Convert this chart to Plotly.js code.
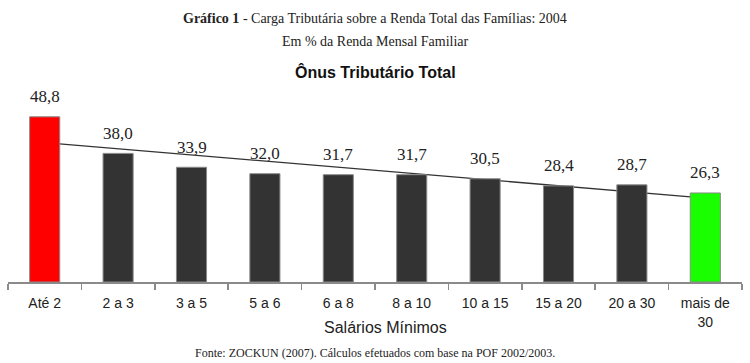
<!DOCTYPE html>
<html>
<head>
<meta charset="utf-8">
<script src="https://cdn.plot.ly/plotly-3.0.1.min.js"></script>
<style>html,body{margin:0;padding:0;background:#fff;}#chart{width:750px;height:363px;}</style>
</head>
<body>
<div id="chart"></div>
<script>
const categories = ["Até 2", "2 a 3", "3 a 5", "5 a 6", "6 a 8", "8 a 10", "10 a 15", "15 a 20", "20 a 30", "mais de 30"];
const tickLabels = ["Até 2", "2 a 3", "3 a 5", "5 a 6", "6 a 8", "8 a 10", "10 a 15", "15 a 20", "20 a 30", "mais de<br>30"];
const values = [48.8, 38.0, 33.9, 32.0, 31.7, 31.7, 30.5, 28.4, 28.7, 26.3];
const barColors = ["#FF0000", "#333333", "#333333", "#333333", "#333333", "#333333", "#333333", "#333333", "#333333", "#19FF00"];
const trendCategories = ["Até 2", "mais de 30"];
const trendValues = [41.2, 24.8];

const W = 750, H = 363;
const mT = 100, mB = 81, mL = 8, mR = 8;
const plotH = H - mT - mB;
const py = p => (H - mB - p) / plotH; // pixel row -> paper y
const yRange = [0, 53.77];
const xRange = [-0.5, 9.5];

const serif = "Liberation Serif, Times New Roman, serif";
const sans = "Liberation Sans, Arial, sans-serif";

const trend = {
  type: "scatter", mode: "lines",
  x: trendCategories, y: trendValues,
  xaxis: "x", yaxis: "y",
  line: {color: "#333333", width: 1.3},
  hoverinfo: "skip", showlegend: false
};
const bars = {
  type: "bar",
  x: categories, y: values,
  xaxis: "x2", yaxis: "y2",
  width: 0.41,
  marker: {color: barColors, line: {color: "#8a8a8a", width: 1}},
  showlegend: false
};

const annotations = [
  {text: "<b>Gráfico 1</b> - Carga Tributária sobre a Renda Total das Famílias: 2004", x: 0.5, y: py(18), font: {family: serif, size: 14, color: "#222"}},
  {text: "Em % da Renda Mensal Familiar", x: 0.5, y: py(41), font: {family: serif, size: 14, color: "#222"}},
  {text: "<b>Ônus Tributário Total</b>", x: 0.5, y: py(72), font: {family: sans, size: 16, color: "#111"}},
  {text: "Salários Mínimos", x: (385 - mL) / (W - mL - mR), y: py(327), font: {family: sans, size: 16, color: "#222"}},
  {text: "Fonte: ZOCKUN (2007). Cálculos efetuados com base na POF 2002/2003.", x: 0.5, y: py(353), font: {family: serif, size: 12, color: "#222"}}
].map(a => Object.assign({xref: "paper", yref: "paper", showarrow: false, xanchor: "center", yanchor: "middle"}, a));

categories.forEach((c, i) => {
  annotations.push({
    xref: "x2", yref: "y2", x: c, y: values[i],
    text: values[i].toFixed(1).replace(".", ","),
    showarrow: false, yanchor: "middle", yshift: 20,
    font: {family: serif, size: 17, color: "#222"}
  });
});

const layout = {
  width: W, height: H,
  margin: {t: mT, b: mB, l: mL, r: mR, pad: 0},
  paper_bgcolor: "#fff", plot_bgcolor: "#fff",
  xaxis: {
    type: "category", categoryorder: "array", categoryarray: categories,
    range: xRange, tickmode: "array", tickvals: categories, ticktext: tickLabels,
    showline: true, linecolor: "#8a8a8a", linewidth: 1.5,
    ticks: "outside", tickson: "boundaries", ticklen: 6, tickcolor: "#8a8a8a", tickwidth: 1.5,
    ticklabelstandoff: 8,
    tickfont: {family: sans, size: 14, color: "#222"},
    showgrid: false, zeroline: false, fixedrange: true
  },
  yaxis: {range: yRange, visible: false, showgrid: false, zeroline: false, fixedrange: true},
  xaxis2: {type: "category", categoryorder: "array", categoryarray: categories, range: xRange, overlaying: "x", visible: false, fixedrange: true},
  yaxis2: {range: yRange, overlaying: "y", visible: false, fixedrange: true},
  annotations: annotations,
  showlegend: false,
  bargap: 0.59
};

Plotly.newPlot("chart", [trend, bars], layout, {displayModeBar: false, staticPlot: true});
</script>
</body>
</html>
